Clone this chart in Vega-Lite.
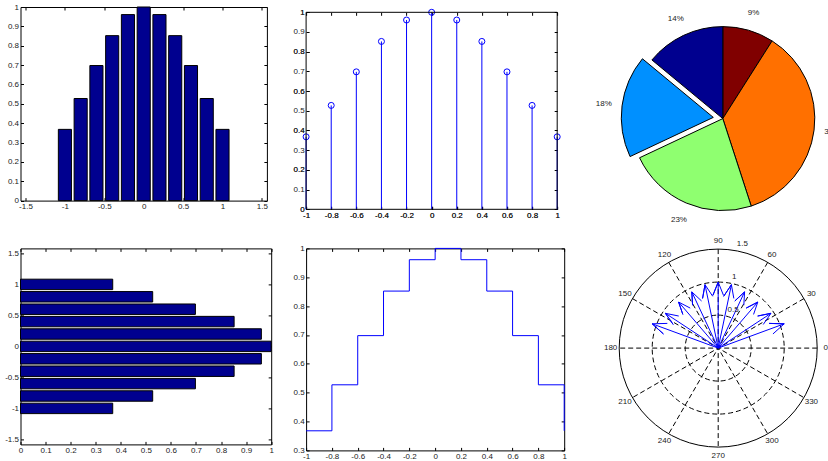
{
  "$schema": "https://vega.github.io/schema/vega-lite/v6.json",
  "padding": {"left": 3.5, "top": 2, "right": 0, "bottom": 0},
  "config": {
    "view": {"stroke": "black", "strokeWidth": 1},
    "axis": {"grid": false, "domain": false, "labelFont": "Liberation Sans", "labelFontSize": 8, "labelColor": "#222", "tickColor": "black", "tickSize": -3, "labelPadding": 5, "labelFlush": false, "labelOverlap": false, "title": null, "format": "~g"},
    "text": {"font": "Liberation Sans", "fontSize": 8, "fill": "#222"},
    "locale": {"number": {"decimal": ".", "thousands": ",", "grouping": [3], "currency": ["$", ""], "minus": "-"}}
  },
  "datasets": {
    "g": [
      {"x": -1, "y": 0.3679}, {"x": -0.8, "y": 0.5273}, {"x": -0.6, "y": 0.6977}, {"x": -0.4, "y": 0.8521},
      {"x": -0.2, "y": 0.9608}, {"x": 0, "y": 1}, {"x": 0.2, "y": 0.9608}, {"x": 0.4, "y": 0.8521},
      {"x": 0.6, "y": 0.6977}, {"x": 0.8, "y": 0.5273}, {"x": 1, "y": 0.3679}
    ],
    "pie": [
      {"slice": "9%", "pct": 9, "o": 1},
      {"slice": "36%", "pct": 36, "o": 2},
      {"slice": "23%", "pct": 23, "o": 3},
      {"slice": "18%", "pct": 18, "o": 4},
      {"slice": "14%", "pct": 14, "o": 5}
    ],
    "spokes": [
      {"x1": 1.5, "y1": 0, "x2": -1.5, "y2": 0},
      {"x1": 1.299, "y1": 0.75, "x2": -1.299, "y2": -0.75},
      {"x1": 0.75, "y1": 1.299, "x2": -0.75, "y2": -1.299},
      {"x1": 0, "y1": 1.5, "x2": 0, "y2": -1.5},
      {"x1": -0.75, "y1": 1.299, "x2": 0.75, "y2": -1.299},
      {"x1": -1.299, "y1": 0.75, "x2": 1.299, "y2": -0.75}
    ],
    "angles": [
      {"ang": 0, "lab": "0"}, {"ang": 30, "lab": "30"}, {"ang": 60, "lab": "60"}, {"ang": 90, "lab": "90"},
      {"ang": 120, "lab": "120"}, {"ang": 150, "lab": "150"}, {"ang": 180, "lab": "180"}, {"ang": 210, "lab": "210"},
      {"ang": 240, "lab": "240"}, {"ang": 270, "lab": "270"}, {"ang": 300, "lab": "300"}, {"ang": 330, "lab": "330"}
    ],
    "rlabels": [
      {"ang": 82, "rr": 0.525, "lab": "0.5"},
      {"ang": 82, "rr": 1.025, "lab": "1"},
      {"ang": 82, "rr": 1.525, "lab": "1.5"}
    ],
    "arrows": [
      {"a": 1, "k": 0, "x": 0, "y": 0}, {"a": 1, "k": 1, "x": -1, "y": 0.3679}, {"a": 1, "k": 2, "x": -0.8294, "y": 0.2143}, {"a": 1, "k": 3, "x": -1, "y": 0.3679}, {"a": 1, "k": 4, "x": -0.7706, "y": 0.3743},
      {"a": 2, "k": 0, "x": 0, "y": 0}, {"a": 2, "k": 1, "x": -0.8, "y": 0.5273}, {"a": 2, "k": 2, "x": -0.6822, "y": 0.3578}, {"a": 2, "k": 3, "x": -0.8, "y": 0.5273}, {"a": 2, "k": 4, "x": -0.5978, "y": 0.4858},
      {"a": 3, "k": 0, "x": 0, "y": 0}, {"a": 3, "k": 1, "x": -0.6, "y": 0.6977}, {"a": 3, "k": 2, "x": -0.5358, "y": 0.5102}, {"a": 3, "k": 3, "x": -0.6, "y": 0.6977}, {"a": 3, "k": 4, "x": -0.4242, "y": 0.6062},
      {"a": 4, "k": 0, "x": 0, "y": 0}, {"a": 4, "k": 1, "x": -0.4, "y": 0.8521}, {"a": 4, "k": 2, "x": -0.3882, "y": 0.6497}, {"a": 4, "k": 3, "x": -0.4, "y": 0.8521}, {"a": 4, "k": 4, "x": -0.2518, "y": 0.7137},
      {"a": 5, "k": 0, "x": 0, "y": 0}, {"a": 5, "k": 1, "x": -0.2, "y": 0.9608}, {"a": 5, "k": 2, "x": -0.2369, "y": 0.7526}, {"a": 5, "k": 3, "x": -0.2, "y": 0.9608}, {"a": 5, "k": 4, "x": -0.0831, "y": 0.7846},
      {"a": 6, "k": 0, "x": 0, "y": 0}, {"a": 6, "k": 1, "x": 0, "y": 1}, {"a": 6, "k": 2, "x": -0.08, "y": 0.8}, {"a": 6, "k": 3, "x": 0, "y": 1}, {"a": 6, "k": 4, "x": 0.08, "y": 0.8},
      {"a": 7, "k": 0, "x": 0, "y": 0}, {"a": 7, "k": 1, "x": 0.2, "y": 0.9608}, {"a": 7, "k": 2, "x": 0.0831, "y": 0.7846}, {"a": 7, "k": 3, "x": 0.2, "y": 0.9608}, {"a": 7, "k": 4, "x": 0.2369, "y": 0.7526},
      {"a": 8, "k": 0, "x": 0, "y": 0}, {"a": 8, "k": 1, "x": 0.4, "y": 0.8521}, {"a": 8, "k": 2, "x": 0.2518, "y": 0.7137}, {"a": 8, "k": 3, "x": 0.4, "y": 0.8521}, {"a": 8, "k": 4, "x": 0.3882, "y": 0.6497},
      {"a": 9, "k": 0, "x": 0, "y": 0}, {"a": 9, "k": 1, "x": 0.6, "y": 0.6977}, {"a": 9, "k": 2, "x": 0.4242, "y": 0.6062}, {"a": 9, "k": 3, "x": 0.6, "y": 0.6977}, {"a": 9, "k": 4, "x": 0.5358, "y": 0.5102},
      {"a": 10, "k": 0, "x": 0, "y": 0}, {"a": 10, "k": 1, "x": 0.8, "y": 0.5273}, {"a": 10, "k": 2, "x": 0.5978, "y": 0.4858}, {"a": 10, "k": 3, "x": 0.8, "y": 0.5273}, {"a": 10, "k": 4, "x": 0.6822, "y": 0.3578},
      {"a": 11, "k": 0, "x": 0, "y": 0}, {"a": 11, "k": 1, "x": 1, "y": 0.3679}, {"a": 11, "k": 2, "x": 0.7706, "y": 0.3743}, {"a": 11, "k": 3, "x": 1, "y": 0.3679}, {"a": 11, "k": 4, "x": 0.8294, "y": 0.2143}
    ]
  },
  "columns": 3,
  "bounds": "flush",
  "spacing": {"row": 17.4, "column": 34.6},
  "concat": [
    {
      "width": 246.4, "height": 193.6,
      "data": {"name": "g"},
      "resolve": {"axis": {"x": "independent", "y": "independent"}},
      "layer": [
        {
          "mark": {"type": "bar", "width": 13.1, "fill": "#00008F", "stroke": "black", "strokeWidth": 1},
          "encoding": {
            "x": {"field": "x", "type": "quantitative", "scale": {"domain": [-1.5, 1.5], "nice": false, "zero": false}, "axis": {"orient": "bottom", "values": [-1.5, -1, -0.5, 0, 0.5, 1, 1.5]}},
            "y": {"field": "y", "type": "quantitative", "scale": {"domain": [0, 1], "nice": false}, "axis": {"orient": "left", "values": [0, 0.1, 0.2, 0.3, 0.4, 0.5, 0.6, 0.7, 0.8, 0.9, 1]}}
          }
        },
        {
          "mark": {"type": "point", "opacity": 0},
          "encoding": {
            "x": {"field": "x", "type": "quantitative", "scale": {"domain": [-1.5, 1.5], "nice": false, "zero": false}, "axis": {"orient": "top", "labels": false, "values": [-1.5, -1, -0.5, 0, 0.5, 1, 1.5]}},
            "y": {"field": "y", "type": "quantitative", "scale": {"domain": [0, 1], "nice": false}, "axis": {"orient": "right", "labels": false, "values": [0, 0.1, 0.2, 0.3, 0.4, 0.5, 0.6, 0.7, 0.8, 0.9, 1]}}
          }
        }
      ]
    },
    {
      "width": 251.1, "height": 202.3,
      "view": {"stroke": null},
      "data": {"name": "g"},
      "resolve": {"axis": {"x": "independent", "y": "independent"}},
      "layer": [
        {
          "mark": {"type": "rule", "color": "#0000FF", "strokeWidth": 1},
          "encoding": {
            "x": {"field": "x", "type": "quantitative", "scale": {"domain": [-1, 1], "nice": false, "zero": false}, "axis": {"orient": "bottom", "values": [-1, -0.8, -0.6, -0.4, -0.2, 0, 0.2, 0.4, 0.6, 0.8, 1]}},
            "y": {"field": "y", "type": "quantitative", "scale": {"domain": [0, 1.0269], "nice": false}, "axis": {"orient": "left", "values": [0, 0.1, 0.2, 0.3, 0.4, 0.5, 0.6, 0.7, 0.8, 0.9, 1]}},
            "y2": {"datum": 0}
          }
        },
        {
          "mark": {"type": "point", "shape": "circle", "filled": false, "size": 36, "color": "#0000FF", "strokeWidth": 1, "opacity": 1},
          "encoding": {
            "x": {"field": "x", "type": "quantitative", "scale": {"domain": [-1, 1], "nice": false, "zero": false}, "axis": {"orient": "top", "labels": false, "offset": -5.3, "values": [-1, -0.8, -0.6, -0.4, -0.2, 0, 0.2, 0.4, 0.6, 0.8, 1]}},
            "y": {"field": "y", "type": "quantitative", "scale": {"domain": [0, 1.0269], "nice": false}, "axis": {"orient": "right", "labels": false, "values": [0, 0.1, 0.2, 0.3, 0.4, 0.5, 0.6, 0.7, 0.8, 0.9, 1]}}
          }
        },
        {
          "data": {"values": [{}]},
          "mark": {"type": "rect", "filled": false, "stroke": "black", "strokeWidth": 1},
          "encoding": {
            "x": {"datum": -1, "type": "quantitative"}, "x2": {"datum": 1},
            "y": {"datum": 0, "type": "quantitative"}, "y2": {"datum": 1}
          }
        }
      ]
    },
    {
      "width": 246.2, "height": 223.2,
      "view": {"stroke": null},
      "data": {"name": "pie"},
      "encoding": {
        "theta": {"field": "pct", "type": "quantitative", "stack": true},
        "order": {"field": "o", "type": "quantitative"},
        "color": {"field": "slice", "type": "nominal", "legend": null,
          "scale": {"domain": ["9%", "36%", "23%", "18%", "14%"], "range": ["#800000", "#FF7000", "#8FFF70", "#0090FF", "#00008F"]}}
      },
      "layer": [
        {"mark": {"type": "arc", "radius": 92, "stroke": "black", "strokeWidth": 1},
         "encoding": {"opacity": {"condition": {"test": "datum.slice === '18%'", "value": 0}, "value": 1}}},
        {"mark": {"type": "arc", "radius": 92, "stroke": "black", "strokeWidth": 1, "xOffset": -9.5, "yOffset": -1.2},
         "encoding": {"opacity": {"condition": {"test": "datum.slice === '18%'", "value": 1}, "value": 0}}},
        {"mark": {"type": "text", "radius": 110.4, "align": "center", "baseline": "middle"},
         "encoding": {"text": {"field": "slice"}, "color": {"value": "#222"}, "opacity": {"condition": {"test": "datum.slice === '18%'", "value": 0}, "value": 1}}},
        {"mark": {"type": "text", "radius": 110.4, "align": "center", "baseline": "middle", "dx": -9.5, "dy": -1.2},
         "encoding": {"text": {"field": "slice"}, "color": {"value": "#222"}, "opacity": {"condition": {"test": "datum.slice === '18%'", "value": 1}, "value": 0}}}
      ]
    },
    {
      "width": 250.7, "height": 196,
      "data": {"name": "g"},
      "resolve": {"axis": {"x": "independent", "y": "independent"}},
      "layer": [
        {
          "mark": {"type": "bar", "orient": "horizontal", "height": 10.45, "fill": "#00008F", "stroke": "black", "strokeWidth": 1},
          "encoding": {
            "y": {"field": "x", "type": "quantitative", "scale": {"domain": [-1.5, 1.5], "nice": false, "zero": false}, "axis": {"orient": "left", "values": [-1.5, -1, -0.5, 0, 0.5, 1, 1.5]}},
            "x": {"field": "y", "type": "quantitative", "scale": {"domain": [0, 1], "nice": false}, "axis": {"orient": "bottom", "values": [0, 0.1, 0.2, 0.3, 0.4, 0.5, 0.6, 0.7, 0.8, 0.9, 1]}}
          }
        },
        {
          "mark": {"type": "point", "opacity": 0},
          "encoding": {
            "y": {"field": "x", "type": "quantitative", "scale": {"domain": [-1.5, 1.5], "nice": false, "zero": false}, "axis": {"orient": "right", "labels": false, "values": [-1.5, -1, -0.5, 0, 0.5, 1, 1.5]}},
            "x": {"field": "y", "type": "quantitative", "scale": {"domain": [0, 1], "nice": false}, "axis": {"orient": "top", "labels": false, "values": [0, 0.1, 0.2, 0.3, 0.4, 0.5, 0.6, 0.7, 0.8, 0.9, 1]}}
          }
        }
      ]
    },
    {
      "width": 258.1, "height": 202,
      "data": {"name": "g"},
      "resolve": {"axis": {"x": "independent", "y": "independent"}},
      "layer": [
        {
          "mark": {"type": "line", "interpolate": "step-after", "color": "#0000FF", "strokeWidth": 1},
          "encoding": {
            "x": {"field": "x", "type": "quantitative", "scale": {"domain": [-1, 1], "nice": false, "zero": false}, "axis": {"orient": "bottom", "values": [-1, -0.8, -0.6, -0.4, -0.2, 0, 0.2, 0.4, 0.6, 0.8, 1]}},
            "y": {"field": "y", "type": "quantitative", "scale": {"domain": [0.3, 1], "nice": false, "zero": false}, "axis": {"orient": "left", "values": [0.3, 0.4, 0.5, 0.6, 0.7, 0.8, 0.9, 1]}}
          }
        },
        {
          "mark": {"type": "point", "opacity": 0},
          "encoding": {
            "x": {"field": "x", "type": "quantitative", "scale": {"domain": [-1, 1], "nice": false, "zero": false}, "axis": {"orient": "top", "labels": false, "values": [-1, -0.8, -0.6, -0.4, -0.2, 0, 0.2, 0.4, 0.6, 0.8, 1]}},
            "y": {"field": "y", "type": "quantitative", "scale": {"domain": [0.3, 1], "nice": false, "zero": false}, "axis": {"orient": "right", "labels": false, "values": [0.3, 0.4, 0.5, 0.6, 0.7, 0.8, 0.9, 1]}}
          }
        }
      ]
    },
    {
      "width": 237, "height": 199.4,
      "view": {"stroke": null},
      "layer": [
        {"data": {"values": [{}]},
         "mark": {"type": "arc", "theta": 0, "theta2": 6.2832, "filled": false, "stroke": "black", "strokeWidth": 1, "strokeDash": [5, 3]},
         "encoding": {"radius": {"datum": 0.5, "type": "quantitative", "stack": null, "scale": {"type": "linear", "domain": [0, 1.5], "range": [0, 99], "zero": true}}}},
        {"data": {"values": [{}]},
         "mark": {"type": "arc", "theta": 0, "theta2": 6.2832, "filled": false, "stroke": "black", "strokeWidth": 1, "strokeDash": [5, 3]},
         "encoding": {"radius": {"datum": 1, "type": "quantitative", "stack": null, "scale": {"type": "linear", "domain": [0, 1.5], "range": [0, 99], "zero": true}}}},
        {"data": {"values": [{}]},
         "mark": {"type": "arc", "theta": 0, "theta2": 6.2832, "filled": false, "stroke": "black", "strokeWidth": 1},
         "encoding": {"radius": {"datum": 1.5, "type": "quantitative", "stack": null, "scale": {"type": "linear", "domain": [0, 1.5], "range": [0, 99], "zero": true}}}},
        {"data": {"name": "spokes"},
         "mark": {"type": "rule", "color": "black", "strokeWidth": 1, "strokeDash": [5, 3]},
         "encoding": {
           "x": {"field": "x1", "type": "quantitative", "scale": {"domain": [-1.7955, 1.7955], "nice": false, "zero": false}, "axis": null},
           "y": {"field": "y1", "type": "quantitative", "scale": {"domain": [-1.5106, 1.5106], "nice": false, "zero": false}, "axis": null},
           "x2": {"field": "x2"}, "y2": {"field": "y2"}
         }},
        {"data": {"name": "arrows"},
         "mark": {"type": "line", "color": "#0000FF", "strokeWidth": 1},
         "encoding": {
           "x": {"field": "x", "type": "quantitative", "scale": {"domain": [-1.7955, 1.7955], "nice": false, "zero": false}, "axis": null},
           "y": {"field": "y", "type": "quantitative", "scale": {"domain": [-1.5106, 1.5106], "nice": false, "zero": false}, "axis": null},
           "detail": {"field": "a", "type": "nominal"},
           "order": {"field": "k", "type": "quantitative"}
         }},
        {"data": {"name": "angles"},
         "mark": {"type": "text", "align": "center", "baseline": "middle"},
         "encoding": {
           "theta": {"field": "ang", "type": "quantitative", "stack": null, "scale": {"domain": [0, 360], "range": [1.5708, -4.7124]}},
           "radius": {"datum": 1.63, "type": "quantitative", "stack": null, "scale": {"type": "linear", "domain": [0, 1.5], "range": [0, 99], "zero": true}},
           "text": {"field": "lab"}
         }},
        {"data": {"name": "rlabels"},
         "mark": {"type": "text", "align": "left", "baseline": "bottom", "dx": 4.5},
         "encoding": {
           "theta": {"field": "ang", "type": "quantitative", "stack": null, "scale": {"domain": [0, 360], "range": [1.5708, -4.7124]}},
           "radius": {"field": "rr", "type": "quantitative", "stack": null, "scale": {"type": "linear", "domain": [0, 1.5], "range": [0, 99], "zero": true}},
           "text": {"field": "lab"}
         }}
      ]
    }
  ]
}
